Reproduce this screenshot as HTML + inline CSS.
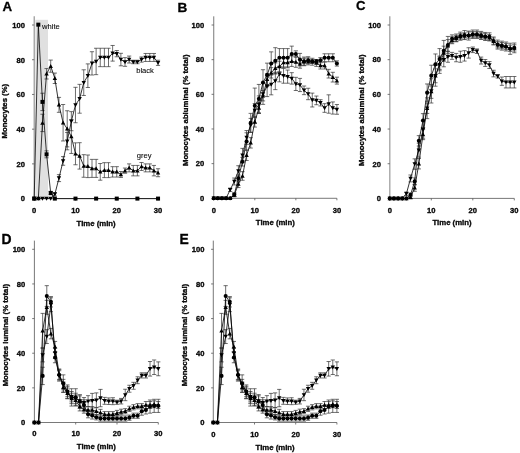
<!DOCTYPE html>
<html><head><meta charset="utf-8"><title>Figure</title>
<style>
html,body{margin:0;padding:0;background:#fff;}
body{width:520px;height:453px;overflow:hidden;}
svg{display:block;will-change:transform;transform:translateZ(0);}
text{font-family:"Liberation Sans",sans-serif;fill:#0a0a0a;stroke:#050505;stroke-width:0.3px;}
.tk{font-size:7.6px;font-weight:bold;}
.ti,.ty{font-size:7.75px;font-weight:bold;}
.pl{font-size:13.3px;font-weight:bold;fill:#000;}
.lb{font-size:7.6px;stroke-width:0.08px;}
</style></head><body>
<svg width="520" height="453" viewBox="0 0 520 453">
<defs><filter id="soft" x="0" y="0" width="520" height="453" filterUnits="userSpaceOnUse"><feGaussianBlur stdDeviation="0.38"/></filter></defs>
<rect width="520" height="453" fill="#fff"/>
<g filter="url(#soft)">
<g>
<rect x="35.30" y="19.79" width="12.70" height="178.81" fill="#e0e0e0"/>
<path d="M34.20 198.60H158.04" fill="none" stroke="#555" stroke-width="0.8"/>
<path d="M34.20 198.60v2.0M75.48 198.60v2.0M116.76 198.60v2.0M158.04 198.60v2.0" stroke="#555" stroke-width="0.8" fill="none"/>
<path d="M34.20 16.32V199.00" stroke="#8c8c8c" stroke-width="1.1" fill="none"/>
<path d="M32.00 198.60H34.20M32.00 163.88H34.20M32.00 129.16H34.20M32.00 94.44H34.20M32.00 59.72H34.20M32.00 25.00H34.20" stroke="#555" stroke-width="0.8" fill="none"/>
<text class="tk" x="25.00" y="201.40" text-anchor="end">0</text>
<text class="tk" x="25.00" y="166.68" text-anchor="end">20</text>
<text class="tk" x="25.00" y="131.96" text-anchor="end">40</text>
<text class="tk" x="25.00" y="97.24" text-anchor="end">60</text>
<text class="tk" x="25.00" y="62.52" text-anchor="end">80</text>
<text class="tk" x="25.00" y="27.80" text-anchor="end">100</text>
<text class="tk" x="34.20" y="213.00" text-anchor="middle">0</text>
<text class="tk" x="75.48" y="213.00" text-anchor="middle">10</text>
<text class="tk" x="116.76" y="213.00" text-anchor="middle">20</text>
<text class="tk" x="158.04" y="213.00" text-anchor="middle">30</text>
<text class="ti" x="96.12" y="225.50" text-anchor="middle">Time (min)</text>
<text class="ty" transform="translate(7.20 111.20) rotate(-90)" text-anchor="middle">Monocytes (%)</text>
<text class="pl" style="font-size:13.3px" x="2.60" y="10.65">A</text>
<path d="M42.46 93.22V110.58M40.36 93.22h4.2M40.36 110.58h4.2M46.58 150.86V157.80M44.48 150.86h4.2M44.48 157.80h4.2M50.71 191.31V194.78M48.61 191.31h4.2M48.61 194.78h4.2" stroke="#303030" stroke-width="0.7" fill="none"/>
<path d="M42.46 114.23V131.59M40.36 114.23h4.2M40.36 131.59h4.2M46.58 68.57V78.99M44.48 68.57h4.2M44.48 78.99h4.2M50.71 60.07V72.22M48.61 60.07h4.2M48.61 72.22h4.2M54.84 73.09V83.50M52.74 73.09h4.2M52.74 83.50h4.2M58.97 97.39V112.32M56.87 97.39h4.2M56.87 112.32h4.2M63.10 104.51V140.96M61.00 104.51h4.2M61.00 140.96h4.2M67.22 110.76V146.87M65.12 110.76h4.2M65.12 146.87h4.2M71.35 119.79V153.46M69.25 119.79h4.2M69.25 153.46h4.2M75.48 142.87V164.75M73.38 142.87h4.2M73.38 164.75h4.2M79.61 142.70V169.09M77.51 142.70h4.2M77.51 169.09h4.2M83.74 154.68V177.25M81.64 154.68h4.2M81.64 177.25h4.2M87.86 155.03V177.59M85.76 155.03h4.2M85.76 177.59h4.2M91.99 159.37V177.42M89.89 159.37h4.2M89.89 177.42h4.2M96.12 159.37V177.42M94.02 159.37h4.2M94.02 177.42h4.2M100.25 163.53V180.20M98.15 163.53h4.2M98.15 180.20h4.2M104.38 162.66V177.59M102.28 162.66h4.2M102.28 177.59h4.2M108.50 162.66V177.59M106.40 162.66h4.2M106.40 177.59h4.2M112.63 166.66V177.07M110.53 166.66h4.2M110.53 177.07h4.2M116.76 166.66V177.07M114.66 166.66h4.2M114.66 177.07h4.2M120.89 171.52V177.42M118.79 171.52h4.2M118.79 177.42h4.2M125.02 168.05V173.25M122.92 168.05h4.2M122.92 173.25h4.2M129.14 163.88V171.87M127.04 163.88h4.2M127.04 171.87h4.2M133.27 165.44V175.86M131.17 165.44h4.2M131.17 175.86h4.2M137.40 165.44V175.86M135.30 165.44h4.2M135.30 175.86h4.2M141.53 162.49V170.48M139.43 162.49h4.2M139.43 170.48h4.2M145.66 163.88V171.87M143.56 163.88h4.2M143.56 171.87h4.2M149.78 163.88V171.87M147.68 163.88h4.2M147.68 171.87h4.2M153.91 165.44V175.86M151.81 165.44h4.2M151.81 175.86h4.2M158.04 168.74V176.73M155.94 168.74h4.2M155.94 176.73h4.2" stroke="#303030" stroke-width="0.7" fill="none"/>
<path d="M54.84 192.52V196.00M52.74 192.52h4.2M52.74 196.00h4.2M58.97 174.64V181.59M56.87 174.64h4.2M56.87 181.59h4.2M63.10 156.59V165.27M61.00 156.59h4.2M61.00 165.27h4.2M67.22 132.46V149.82M65.12 132.46h4.2M65.12 149.82h4.2M71.35 111.63V130.72M69.25 111.63h4.2M69.25 130.72h4.2M75.48 87.32V122.74M73.38 87.32h4.2M73.38 122.74h4.2M79.61 84.37V113.19M77.51 84.37h4.2M77.51 113.19h4.2M83.74 69.79V95.48M81.64 69.79h4.2M81.64 95.48h4.2M87.86 63.89V87.50M85.76 63.89h4.2M85.76 87.50h4.2M91.99 51.73V75.00M89.89 51.73h4.2M89.89 75.00h4.2M96.12 48.26V74.65M94.02 48.26h4.2M94.02 74.65h4.2M100.25 48.26V66.66M98.15 48.26h4.2M98.15 66.66h4.2M104.38 48.26V66.66M102.28 48.26h4.2M102.28 66.66h4.2M108.50 48.26V66.66M106.40 48.26h4.2M106.40 66.66h4.2M112.63 45.48V61.11M110.53 45.48h4.2M110.53 61.11h4.2M116.76 50.52V56.77M114.66 50.52h4.2M114.66 56.77h4.2M120.89 53.30V65.80M118.79 53.30h4.2M118.79 65.80h4.2M125.02 57.64V66.32M122.92 57.64h4.2M122.92 66.32h4.2M129.14 56.07V63.02M127.04 56.07h4.2M127.04 63.02h4.2M133.27 60.24V63.71M131.17 60.24h4.2M131.17 63.71h4.2M137.40 60.24V63.71M135.30 60.24h4.2M135.30 63.71h4.2M141.53 56.94V62.15M139.43 56.94h4.2M139.43 62.15h4.2M145.66 53.47V61.46M143.56 53.47h4.2M143.56 61.46h4.2M149.78 53.47V61.46M147.68 53.47h4.2M147.68 61.46h4.2M153.91 53.47V61.46M151.81 53.47h4.2M151.81 61.46h4.2M158.04 60.24V65.45M155.94 60.24h4.2M155.94 65.45h4.2" stroke="#303030" stroke-width="0.7" fill="none"/>
<polyline points="34.20,198.60 38.33,24.65 42.46,101.90 46.58,154.33 50.71,193.04 54.84,198.60 75.48,198.60 96.12,198.60 116.76,198.60 137.40,198.60 158.04,198.60" fill="none" stroke="#050505" stroke-width="0.8" stroke-linejoin="round"/>
<polyline points="34.20,198.60 38.33,198.60 42.46,122.91 46.58,73.78 50.71,66.14 54.84,78.30 58.97,104.86 63.10,122.74 67.22,128.81 71.35,136.62 75.48,153.81 79.61,155.89 83.74,165.96 87.86,166.31 91.99,168.39 96.12,168.39 100.25,171.87 104.38,170.13 108.50,170.13 112.63,171.87 116.76,171.87 120.89,174.47 125.02,170.65 129.14,167.87 133.27,170.65 137.40,170.65 141.53,166.48 145.66,167.87 149.78,167.87 153.91,170.65 158.04,172.73" fill="none" stroke="#050505" stroke-width="0.8" stroke-linejoin="round"/>
<polyline points="34.20,198.60 38.33,198.60 42.46,198.60 46.58,198.60 50.71,198.60 54.84,194.26 58.97,178.12 63.10,160.93 67.22,141.14 71.35,121.17 75.48,105.03 79.61,98.78 83.74,82.64 87.86,75.69 91.99,63.37 96.12,61.46 100.25,57.46 104.38,57.46 108.50,57.46 112.63,53.30 116.76,53.64 120.89,59.55 125.02,61.98 129.14,59.55 133.27,61.98 137.40,61.98 141.53,59.55 145.66,57.46 149.78,57.46 153.91,57.46 158.04,62.84" fill="none" stroke="#050505" stroke-width="0.8" stroke-linejoin="round"/>
<rect x="32.20" y="196.60" width="4.0" height="4.0" fill="#000"/>
<rect x="36.33" y="22.65" width="4.0" height="4.0" fill="#000"/>
<rect x="40.46" y="99.90" width="4.0" height="4.0" fill="#000"/>
<rect x="44.58" y="152.33" width="4.0" height="4.0" fill="#000"/>
<rect x="48.71" y="191.04" width="4.0" height="4.0" fill="#000"/>
<rect x="52.84" y="196.60" width="4.0" height="4.0" fill="#000"/>
<rect x="73.48" y="196.60" width="4.0" height="4.0" fill="#000"/>
<rect x="94.12" y="196.60" width="4.0" height="4.0" fill="#000"/>
<rect x="114.76" y="196.60" width="4.0" height="4.0" fill="#000"/>
<rect x="135.40" y="196.60" width="4.0" height="4.0" fill="#000"/>
<rect x="156.04" y="196.60" width="4.0" height="4.0" fill="#000"/>
<path d="M32.00 200.35h4.4l-2.2 -4.0zM36.13 200.35h4.4l-2.2 -4.0zM40.26 124.66h4.4l-2.2 -4.0zM44.38 75.53h4.4l-2.2 -4.0zM48.51 67.89h4.4l-2.2 -4.0zM52.64 80.05h4.4l-2.2 -4.0zM56.77 106.61h4.4l-2.2 -4.0zM60.90 124.49h4.4l-2.2 -4.0zM65.02 130.56h4.4l-2.2 -4.0zM69.15 138.37h4.4l-2.2 -4.0zM73.28 155.56h4.4l-2.2 -4.0zM77.41 157.64h4.4l-2.2 -4.0zM81.54 167.71h4.4l-2.2 -4.0zM85.66 168.06h4.4l-2.2 -4.0zM89.79 170.14h4.4l-2.2 -4.0zM93.92 170.14h4.4l-2.2 -4.0zM98.05 173.62h4.4l-2.2 -4.0zM102.18 171.88h4.4l-2.2 -4.0zM106.30 171.88h4.4l-2.2 -4.0zM110.43 173.62h4.4l-2.2 -4.0zM114.56 173.62h4.4l-2.2 -4.0zM118.69 176.22h4.4l-2.2 -4.0zM122.82 172.40h4.4l-2.2 -4.0zM126.94 169.62h4.4l-2.2 -4.0zM131.07 172.40h4.4l-2.2 -4.0zM135.20 172.40h4.4l-2.2 -4.0zM139.33 168.23h4.4l-2.2 -4.0zM143.46 169.62h4.4l-2.2 -4.0zM147.58 169.62h4.4l-2.2 -4.0zM151.71 172.40h4.4l-2.2 -4.0zM155.84 174.48h4.4l-2.2 -4.0z" fill="#000"/>
<path d="M32.00 196.85h4.4l-2.2 4.0zM36.13 196.85h4.4l-2.2 4.0zM40.26 196.85h4.4l-2.2 4.0zM44.38 196.85h4.4l-2.2 4.0zM48.51 196.85h4.4l-2.2 4.0zM52.64 192.51h4.4l-2.2 4.0zM56.77 176.37h4.4l-2.2 4.0zM60.90 159.18h4.4l-2.2 4.0zM65.02 139.39h4.4l-2.2 4.0zM69.15 119.42h4.4l-2.2 4.0zM73.28 103.28h4.4l-2.2 4.0zM77.41 97.03h4.4l-2.2 4.0zM81.54 80.89h4.4l-2.2 4.0zM85.66 73.94h4.4l-2.2 4.0zM89.79 61.62h4.4l-2.2 4.0zM93.92 59.71h4.4l-2.2 4.0zM98.05 55.71h4.4l-2.2 4.0zM102.18 55.71h4.4l-2.2 4.0zM106.30 55.71h4.4l-2.2 4.0zM110.43 51.55h4.4l-2.2 4.0zM114.56 51.89h4.4l-2.2 4.0zM118.69 57.80h4.4l-2.2 4.0zM122.82 60.23h4.4l-2.2 4.0zM126.94 57.80h4.4l-2.2 4.0zM131.07 60.23h4.4l-2.2 4.0zM135.20 60.23h4.4l-2.2 4.0zM139.33 57.80h4.4l-2.2 4.0zM143.46 55.71h4.4l-2.2 4.0zM147.58 55.71h4.4l-2.2 4.0zM151.71 55.71h4.4l-2.2 4.0zM155.84 61.09h4.4l-2.2 4.0z" fill="#000"/>
<text class="lb" x="42" y="28.6">white</text>
<text class="lb" x="136.2" y="73.1">black</text>
<text class="lb" x="136.8" y="157.6">grey</text>
</g>
<g>
<path d="M213.75 198.30H336.90" fill="none" stroke="#555" stroke-width="0.8"/>
<path d="M213.75 198.30v2.0M254.80 198.30v2.0M295.85 198.30v2.0M336.90 198.30v2.0" stroke="#555" stroke-width="0.8" fill="none"/>
<path d="M213.75 16.34V198.70" stroke="#555" stroke-width="0.8" fill="none"/>
<path d="M211.55 198.30H213.75M211.55 163.64H213.75M211.55 128.98H213.75M211.55 94.32H213.75M211.55 59.66H213.75M211.55 25.00H213.75" stroke="#555" stroke-width="0.8" fill="none"/>
<text class="tk" x="204.25" y="201.10" text-anchor="end">0</text>
<text class="tk" x="204.25" y="166.44" text-anchor="end">20</text>
<text class="tk" x="204.25" y="131.78" text-anchor="end">40</text>
<text class="tk" x="204.25" y="97.12" text-anchor="end">60</text>
<text class="tk" x="204.25" y="62.46" text-anchor="end">80</text>
<text class="tk" x="204.25" y="27.80" text-anchor="end">100</text>
<text class="tk" x="213.75" y="213.10" text-anchor="middle">0</text>
<text class="tk" x="254.80" y="213.10" text-anchor="middle">10</text>
<text class="tk" x="295.85" y="213.10" text-anchor="middle">20</text>
<text class="tk" x="336.90" y="213.10" text-anchor="middle">30</text>
<text class="ti" x="275.32" y="225.30" text-anchor="middle">Time (min)</text>
<text class="ty" transform="translate(187.85 110.30) rotate(-90)" text-anchor="middle">Monocytes abluminal (% total)</text>
<text class="pl" style="font-size:13.6px" x="177.50" y="11.55">B</text>
<path d="M230.17 188.08V191.54M228.07 188.08h4.2M228.07 191.54h4.2M234.28 178.02V184.96M232.18 178.02h4.2M232.18 184.96h4.2M238.38 165.72V176.12M236.28 165.72h4.2M236.28 176.12h4.2M242.49 148.39V162.25M240.39 148.39h4.2M240.39 162.25h4.2M246.59 130.54V144.40M244.49 130.54h4.2M244.49 144.40h4.2M250.69 118.41V132.27M248.59 118.41h4.2M248.59 132.27h4.2M254.80 103.50V117.37M252.70 103.50h4.2M252.70 117.37h4.2M258.90 95.88V113.21M256.80 95.88h4.2M256.80 113.21h4.2M263.01 83.58V104.37M260.91 83.58h4.2M260.91 104.37h4.2M267.12 75.78V96.57M265.01 75.78h4.2M265.01 96.57h4.2M271.22 74.04V94.84M269.12 74.04h4.2M269.12 94.84h4.2M275.32 72.31V89.64M273.22 72.31h4.2M273.22 89.64h4.2M279.43 66.25V81.84M277.33 66.25h4.2M277.33 81.84h4.2M283.54 68.33V83.23M281.44 68.33h4.2M281.44 83.23h4.2M287.64 70.06V83.23M285.54 70.06h4.2M285.54 83.23h4.2M291.75 72.66V84.10M289.64 72.66h4.2M289.64 84.10h4.2M295.85 77.34V90.51M293.75 77.34h4.2M293.75 90.51h4.2M299.96 78.38V91.55M297.86 78.38h4.2M297.86 91.55h4.2M304.06 86.00V94.67M301.96 86.00h4.2M301.96 94.67h4.2M308.17 88.25V99.69M306.06 88.25h4.2M306.06 99.69h4.2M312.27 93.11V106.97M310.17 93.11h4.2M310.17 106.97h4.2M316.38 96.05V104.72M314.27 96.05h4.2M314.27 104.72h4.2M320.48 99.69V105.93M318.38 99.69h4.2M318.38 105.93h4.2M324.59 103.68V112.34M322.49 103.68h4.2M322.49 112.34h4.2M328.69 94.84V113.21M326.59 94.84h4.2M326.59 113.21h4.2M332.80 101.95V114.08M330.69 101.95h4.2M330.69 114.08h4.2M336.90 104.54V114.25M334.80 104.54h4.2M334.80 114.25h4.2" stroke="#303030" stroke-width="0.7" fill="none"/>
<path d="M234.28 193.27V196.74M232.18 193.27h4.2M232.18 196.74h4.2M238.38 180.62V187.56M236.28 180.62h4.2M236.28 187.56h4.2M242.49 171.61V180.28M240.39 171.61h4.2M240.39 180.28h4.2M246.59 150.12V160.52M244.49 150.12h4.2M244.49 160.52h4.2M250.69 137.65V148.04M248.59 137.65h4.2M248.59 148.04h4.2M254.80 116.68V127.07M252.70 116.68h4.2M252.70 127.07h4.2M258.90 102.81V113.21M256.80 102.81h4.2M256.80 113.21h4.2M263.01 90.51V100.91M260.91 90.51h4.2M260.91 100.91h4.2M267.12 74.04V84.44M265.01 74.04h4.2M265.01 84.44h4.2M271.22 67.63V78.03M269.12 67.63h4.2M269.12 78.03h4.2M275.32 62.95V73.35M273.22 62.95h4.2M273.22 73.35h4.2M279.43 61.22V71.62M277.33 61.22h4.2M277.33 71.62h4.2M283.54 57.41V67.81M281.44 57.41h4.2M281.44 67.81h4.2M287.64 57.41V67.81M285.54 57.41h4.2M285.54 67.81h4.2M291.75 56.02V66.42M289.64 56.02h4.2M289.64 66.42h4.2M295.85 56.89V67.29M293.75 56.89h4.2M293.75 67.29h4.2M299.96 59.49V68.15M297.86 59.49h4.2M297.86 68.15h4.2M304.06 58.27V65.21M301.96 58.27h4.2M301.96 65.21h4.2M308.17 57.93V64.86M306.06 57.93h4.2M306.06 64.86h4.2M312.27 58.27V65.21M310.17 58.27h4.2M310.17 65.21h4.2M316.38 59.49V66.42M314.27 59.49h4.2M314.27 66.42h4.2M320.48 62.09V69.02M318.38 62.09h4.2M318.38 69.02h4.2M324.59 62.09V69.02M322.49 62.09h4.2M322.49 69.02h4.2M328.69 69.36V78.03M326.59 69.36h4.2M326.59 78.03h4.2M332.80 72.31V82.02M330.69 72.31h4.2M330.69 82.02h4.2M336.90 77.16V84.10M334.80 77.16h4.2M334.80 84.10h4.2" stroke="#303030" stroke-width="0.7" fill="none"/>
<path d="M234.28 192.75V196.22M232.18 192.75h4.2M232.18 196.22h4.2M238.38 174.90V181.84M236.28 174.90h4.2M236.28 181.84h4.2M242.49 157.40V166.07M240.39 157.40h4.2M240.39 166.07h4.2M246.59 132.79V150.12M244.49 132.79h4.2M244.49 150.12h4.2M250.69 113.38V132.45M248.59 113.38h4.2M248.59 132.45h4.2M254.80 88.08V123.43M252.70 88.08h4.2M252.70 123.43h4.2M258.90 84.44V113.21M256.80 84.44h4.2M256.80 113.21h4.2M263.01 69.71V95.36M260.91 69.71h4.2M260.91 95.36h4.2M267.12 63.13V86.69M265.01 63.13h4.2M265.01 86.69h4.2M271.22 51.86V75.08M269.12 51.86h4.2M269.12 75.08h4.2M275.32 47.70V74.04M273.22 47.70h4.2M273.22 74.04h4.2M279.43 48.57V66.94M277.33 48.57h4.2M277.33 66.94h4.2M283.54 48.57V66.94M281.44 48.57h4.2M281.44 66.94h4.2M287.64 48.57V66.94M285.54 48.57h4.2M285.54 66.94h4.2M291.75 46.14V61.74M289.64 46.14h4.2M289.64 61.74h4.2M295.85 50.82V57.06M293.75 50.82h4.2M293.75 57.06h4.2M299.96 53.42V65.90M297.86 53.42h4.2M297.86 65.90h4.2M304.06 57.06V65.73M301.96 57.06h4.2M301.96 65.73h4.2M308.17 56.71V63.65M306.06 56.71h4.2M306.06 63.65h4.2M312.27 59.66V63.13M310.17 59.66h4.2M310.17 63.13h4.2M316.38 59.66V63.13M314.27 59.66h4.2M314.27 63.13h4.2M320.48 57.58V62.78M318.38 57.58h4.2M318.38 62.78h4.2M324.59 53.77V61.74M322.49 53.77h4.2M322.49 61.74h4.2M328.69 53.77V61.74M326.59 53.77h4.2M326.59 61.74h4.2M332.80 53.77V61.74M330.69 53.77h4.2M330.69 61.74h4.2M336.90 60.87V66.07M334.80 60.87h4.2M334.80 66.07h4.2" stroke="#303030" stroke-width="0.7" fill="none"/>
<polyline points="213.75,198.30 217.85,198.30 221.96,198.30 226.06,198.30 230.17,189.81 234.28,181.49 238.38,170.92 242.49,155.32 246.59,137.47 250.69,125.34 254.80,110.44 258.90,104.54 263.01,93.97 267.12,86.17 271.22,84.44 275.32,80.98 279.43,74.04 283.54,75.78 287.64,76.64 291.75,78.38 295.85,83.92 299.96,84.96 304.06,90.33 308.17,93.97 312.27,100.04 316.38,100.39 320.48,102.81 324.59,108.01 328.69,104.02 332.80,108.01 336.90,109.40" fill="none" stroke="#050505" stroke-width="0.8" stroke-linejoin="round"/>
<polyline points="213.75,198.30 217.85,198.30 221.96,198.30 226.06,198.30 230.17,198.30 234.28,195.01 238.38,184.09 242.49,175.94 246.59,155.32 250.69,142.84 254.80,121.87 258.90,108.01 263.01,95.71 267.12,79.24 271.22,72.83 275.32,68.15 279.43,66.42 283.54,62.61 287.64,62.61 291.75,61.22 295.85,62.09 299.96,63.82 304.06,61.74 308.17,61.39 312.27,61.74 316.38,62.95 320.48,65.55 324.59,65.55 328.69,73.70 332.80,77.16 336.90,80.63" fill="none" stroke="#050505" stroke-width="0.8" stroke-linejoin="round"/>
<polyline points="213.75,198.30 217.85,198.30 221.96,198.30 226.06,198.30 230.17,198.30 234.28,194.49 238.38,178.37 242.49,161.73 246.59,141.46 250.69,122.91 254.80,105.76 258.90,98.83 263.01,82.54 267.12,74.91 271.22,63.47 275.32,60.87 279.43,57.75 283.54,57.75 287.64,57.75 291.75,53.94 295.85,53.94 299.96,59.66 304.06,61.39 308.17,60.18 312.27,61.39 316.38,61.39 320.48,60.18 324.59,57.75 328.69,57.75 332.80,57.75 336.90,63.47" fill="none" stroke="#050505" stroke-width="0.8" stroke-linejoin="round"/>
<path d="M211.55 196.55h4.4l-2.2 4.0zM215.66 196.55h4.4l-2.2 4.0zM219.76 196.55h4.4l-2.2 4.0zM223.87 196.55h4.4l-2.2 4.0zM227.97 188.06h4.4l-2.2 4.0zM232.08 179.74h4.4l-2.2 4.0zM236.18 169.17h4.4l-2.2 4.0zM240.29 153.57h4.4l-2.2 4.0zM244.39 135.72h4.4l-2.2 4.0zM248.50 123.59h4.4l-2.2 4.0zM252.60 108.69h4.4l-2.2 4.0zM256.70 102.79h4.4l-2.2 4.0zM260.81 92.22h4.4l-2.2 4.0zM264.92 84.42h4.4l-2.2 4.0zM269.02 82.69h4.4l-2.2 4.0zM273.12 79.23h4.4l-2.2 4.0zM277.23 72.29h4.4l-2.2 4.0zM281.34 74.03h4.4l-2.2 4.0zM285.44 74.89h4.4l-2.2 4.0zM289.55 76.63h4.4l-2.2 4.0zM293.65 82.17h4.4l-2.2 4.0zM297.76 83.21h4.4l-2.2 4.0zM301.86 88.58h4.4l-2.2 4.0zM305.97 92.22h4.4l-2.2 4.0zM310.07 98.29h4.4l-2.2 4.0zM314.18 98.64h4.4l-2.2 4.0zM318.28 101.06h4.4l-2.2 4.0zM322.39 106.26h4.4l-2.2 4.0zM326.49 102.27h4.4l-2.2 4.0zM330.60 106.26h4.4l-2.2 4.0zM334.70 107.65h4.4l-2.2 4.0z" fill="#000"/>
<path d="M211.55 200.05h4.4l-2.2 -4.0zM215.66 200.05h4.4l-2.2 -4.0zM219.76 200.05h4.4l-2.2 -4.0zM223.87 200.05h4.4l-2.2 -4.0zM227.97 200.05h4.4l-2.2 -4.0zM232.08 196.76h4.4l-2.2 -4.0zM236.18 185.84h4.4l-2.2 -4.0zM240.29 177.69h4.4l-2.2 -4.0zM244.39 157.07h4.4l-2.2 -4.0zM248.50 144.59h4.4l-2.2 -4.0zM252.60 123.62h4.4l-2.2 -4.0zM256.70 109.76h4.4l-2.2 -4.0zM260.81 97.46h4.4l-2.2 -4.0zM264.92 80.99h4.4l-2.2 -4.0zM269.02 74.58h4.4l-2.2 -4.0zM273.12 69.90h4.4l-2.2 -4.0zM277.23 68.17h4.4l-2.2 -4.0zM281.34 64.36h4.4l-2.2 -4.0zM285.44 64.36h4.4l-2.2 -4.0zM289.55 62.97h4.4l-2.2 -4.0zM293.65 63.84h4.4l-2.2 -4.0zM297.76 65.57h4.4l-2.2 -4.0zM301.86 63.49h4.4l-2.2 -4.0zM305.97 63.14h4.4l-2.2 -4.0zM310.07 63.49h4.4l-2.2 -4.0zM314.18 64.70h4.4l-2.2 -4.0zM318.28 67.30h4.4l-2.2 -4.0zM322.39 67.30h4.4l-2.2 -4.0zM326.49 75.45h4.4l-2.2 -4.0zM330.60 78.91h4.4l-2.2 -4.0zM334.70 82.38h4.4l-2.2 -4.0z" fill="#000"/>
<circle cx="213.75" cy="198.30" r="2.05" fill="#000"/>
<circle cx="217.85" cy="198.30" r="2.05" fill="#000"/>
<circle cx="221.96" cy="198.30" r="2.05" fill="#000"/>
<circle cx="226.06" cy="198.30" r="2.05" fill="#000"/>
<circle cx="230.17" cy="198.30" r="2.05" fill="#000"/>
<circle cx="234.28" cy="194.49" r="2.05" fill="#000"/>
<circle cx="238.38" cy="178.37" r="2.05" fill="#000"/>
<circle cx="242.49" cy="161.73" r="2.05" fill="#000"/>
<circle cx="246.59" cy="141.46" r="2.05" fill="#000"/>
<circle cx="250.69" cy="122.91" r="2.05" fill="#000"/>
<circle cx="254.80" cy="105.76" r="2.05" fill="#000"/>
<circle cx="258.90" cy="98.83" r="2.05" fill="#000"/>
<circle cx="263.01" cy="82.54" r="2.05" fill="#000"/>
<circle cx="267.12" cy="74.91" r="2.05" fill="#000"/>
<circle cx="271.22" cy="63.47" r="2.05" fill="#000"/>
<circle cx="275.32" cy="60.87" r="2.05" fill="#000"/>
<circle cx="279.43" cy="57.75" r="2.05" fill="#000"/>
<circle cx="283.54" cy="57.75" r="2.05" fill="#000"/>
<circle cx="287.64" cy="57.75" r="2.05" fill="#000"/>
<circle cx="291.75" cy="53.94" r="2.05" fill="#000"/>
<circle cx="295.85" cy="53.94" r="2.05" fill="#000"/>
<circle cx="299.96" cy="59.66" r="2.05" fill="#000"/>
<circle cx="304.06" cy="61.39" r="2.05" fill="#000"/>
<circle cx="308.17" cy="60.18" r="2.05" fill="#000"/>
<circle cx="312.27" cy="61.39" r="2.05" fill="#000"/>
<circle cx="316.38" cy="61.39" r="2.05" fill="#000"/>
<circle cx="320.48" cy="60.18" r="2.05" fill="#000"/>
<circle cx="324.59" cy="57.75" r="2.05" fill="#000"/>
<circle cx="328.69" cy="57.75" r="2.05" fill="#000"/>
<circle cx="332.80" cy="57.75" r="2.05" fill="#000"/>
<circle cx="336.90" cy="63.47" r="2.05" fill="#000"/>
</g>
<g>
<path d="M389.80 198.40H514.30" fill="none" stroke="#555" stroke-width="0.8"/>
<path d="M389.80 198.40v2.0M431.30 198.40v2.0M472.80 198.40v2.0M514.30 198.40v2.0" stroke="#555" stroke-width="0.8" fill="none"/>
<path d="M389.80 16.33V198.80" stroke="#a0a0a0" stroke-width="1.3" fill="none"/>
<path d="M387.60 198.40H389.80M387.60 163.72H389.80M387.60 129.04H389.80M387.60 94.36H389.80M387.60 59.68H389.80M387.60 25.00H389.80" stroke="#555" stroke-width="0.8" fill="none"/>
<text class="tk" x="380.90" y="201.20" text-anchor="end">0</text>
<text class="tk" x="380.90" y="166.52" text-anchor="end">20</text>
<text class="tk" x="380.90" y="131.84" text-anchor="end">40</text>
<text class="tk" x="380.90" y="97.16" text-anchor="end">60</text>
<text class="tk" x="380.90" y="62.48" text-anchor="end">80</text>
<text class="tk" x="380.90" y="27.80" text-anchor="end">100</text>
<text class="tk" x="389.80" y="213.20" text-anchor="middle">0</text>
<text class="tk" x="431.30" y="213.20" text-anchor="middle">10</text>
<text class="tk" x="472.80" y="213.20" text-anchor="middle">20</text>
<text class="tk" x="514.30" y="213.20" text-anchor="middle">30</text>
<text class="ti" x="452.05" y="225.40" text-anchor="middle">Time (min)</text>
<text class="ty" transform="translate(363.60 110.30) rotate(-90)" text-anchor="middle">Monocytes abluminal (% total)</text>
<text class="pl" style="font-size:13.2px" x="356.00" y="10.35">C</text>
<path d="M406.40 191.98V195.45M404.30 191.98h4.2M404.30 195.45h4.2M410.55 174.99V181.93M408.45 174.99h4.2M408.45 181.93h4.2M414.70 158.86V169.27M412.60 158.86h4.2M412.60 169.27h4.2M418.85 143.26V157.13M416.75 143.26h4.2M416.75 157.13h4.2M423.00 120.89V138.23M420.90 120.89h4.2M420.90 138.23h4.2M427.15 97.83V118.64M425.05 97.83h4.2M425.05 118.64h4.2M431.30 78.75V103.03M429.20 78.75h4.2M429.20 103.03h4.2M435.45 65.40V86.21M433.35 65.40h4.2M433.35 86.21h4.2M439.60 56.04V73.38M437.50 56.04h4.2M437.50 73.38h4.2M443.75 52.92V66.79M441.65 52.92h4.2M441.65 66.79h4.2M447.90 51.18V62.28M445.80 51.18h4.2M445.80 62.28h4.2M452.05 52.40V59.33M449.95 52.40h4.2M449.95 59.33h4.2M456.20 53.44V61.76M454.10 53.44h4.2M454.10 61.76h4.2M460.35 51.18V62.28M458.25 51.18h4.2M458.25 62.28h4.2M464.50 50.66V61.07M462.40 50.66h4.2M462.40 61.07h4.2M468.65 47.72V58.12M466.55 47.72h4.2M466.55 58.12h4.2M472.80 47.02V52.57M470.70 47.02h4.2M470.70 52.57h4.2M476.95 48.93V53.44M474.85 48.93h4.2M474.85 53.44h4.2M481.10 57.08V64.02M479.00 57.08h4.2M479.00 64.02h4.2M485.25 59.51V66.44M483.15 59.51h4.2M483.15 66.44h4.2M489.40 61.59V68.52M487.30 61.59h4.2M487.30 68.52h4.2M493.55 70.26V76.85M491.45 70.26h4.2M491.45 76.85h4.2M497.70 74.59V78.06M495.60 74.59h4.2M495.60 78.06h4.2M501.85 77.02V85.34M499.75 77.02h4.2M499.75 85.34h4.2M506.00 76.50V87.94M503.90 76.50h4.2M503.90 87.94h4.2M510.15 76.50V87.94M508.05 76.50h4.2M508.05 87.94h4.2M514.30 76.50V87.94M512.20 76.50h4.2M512.20 87.94h4.2" stroke="#303030" stroke-width="0.7" fill="none"/>
<path d="M410.55 195.45V198.92M408.45 195.45h4.2M408.45 198.92h4.2M414.70 184.35V191.29M412.60 184.35h4.2M412.60 191.29h4.2M418.85 158.52V168.92M416.75 158.52h4.2M416.75 168.92h4.2M423.00 129.21V139.62M420.90 129.21h4.2M420.90 139.62h4.2M427.15 103.03V113.43M425.05 103.03h4.2M425.05 113.43h4.2M431.30 84.48V98.35M429.20 84.48h4.2M429.20 98.35h4.2M435.45 68.87V82.74M433.35 68.87h4.2M433.35 82.74h4.2M439.60 56.91V70.78M437.50 56.91h4.2M437.50 70.78h4.2M443.75 46.15V60.03M441.65 46.15h4.2M441.65 60.03h4.2M447.90 39.57V51.70M445.80 39.57h4.2M445.80 51.70h4.2M452.05 36.79V43.73M449.95 36.79h4.2M449.95 43.73h4.2M456.20 35.40V41.65M454.10 35.40h4.2M454.10 41.65h4.2M460.35 33.67V39.91M458.25 33.67h4.2M458.25 39.91h4.2M464.50 32.80V39.05M462.40 32.80h4.2M462.40 39.05h4.2M468.65 31.94V38.18M466.55 31.94h4.2M466.55 38.18h4.2M472.80 31.59V37.83M470.70 31.59h4.2M470.70 37.83h4.2M476.95 31.59V37.83M474.85 31.59h4.2M474.85 37.83h4.2M481.10 32.80V39.05M479.00 32.80h4.2M479.00 39.05h4.2M485.25 33.67V39.91M483.15 33.67h4.2M483.15 39.91h4.2M489.40 34.54V40.78M487.30 34.54h4.2M487.30 40.78h4.2M493.55 38.00V44.25M491.45 38.00h4.2M491.45 44.25h4.2M497.70 41.65V47.89M495.60 41.65h4.2M495.60 47.89h4.2M501.85 42.51V48.76M499.75 42.51h4.2M499.75 48.76h4.2M506.00 43.38V49.62M503.90 43.38h4.2M503.90 49.62h4.2M510.15 45.11V51.36M508.05 45.11h4.2M508.05 51.36h4.2M514.30 44.77V51.01M512.20 44.77h4.2M512.20 51.01h4.2" stroke="#303030" stroke-width="0.7" fill="none"/>
<path d="M410.55 193.02V196.49M408.45 193.02h4.2M408.45 196.49h4.2M414.70 177.94V184.87M412.60 177.94h4.2M412.60 184.87h4.2M418.85 135.63V146.03M416.75 135.63h4.2M416.75 146.03h4.2M423.00 113.61V127.48M420.90 113.61h4.2M420.90 127.48h4.2M427.15 83.96V101.30M425.05 83.96h4.2M425.05 101.30h4.2M431.30 65.23V86.04M429.20 65.23h4.2M429.20 86.04h4.2M435.45 53.96V74.77M433.35 53.96h4.2M433.35 74.77h4.2M439.60 48.58V69.39M437.50 48.58h4.2M437.50 69.39h4.2M443.75 40.43V61.24M441.65 40.43h4.2M441.65 61.24h4.2M447.90 36.44V53.78M445.80 36.44h4.2M445.80 53.78h4.2M452.05 34.88V42.86M449.95 34.88h4.2M449.95 42.86h4.2M456.20 34.02V41.65M454.10 34.02h4.2M454.10 41.65h4.2M460.35 32.11V40.09M458.25 32.11h4.2M458.25 40.09h4.2M464.50 30.55V39.57M462.40 30.55h4.2M462.40 39.57h4.2M468.65 31.07V40.09M466.55 31.07h4.2M466.55 40.09h4.2M472.80 30.03V38.35M470.70 30.03h4.2M470.70 38.35h4.2M476.95 30.03V38.35M474.85 30.03h4.2M474.85 38.35h4.2M481.10 31.42V39.39M479.00 31.42h4.2M479.00 39.39h4.2M485.25 32.46V40.43M483.15 32.46h4.2M483.15 40.43h4.2M489.40 32.80V40.78M487.30 32.80h4.2M487.30 40.78h4.2M493.55 36.96V44.94M491.45 36.96h4.2M491.45 44.94h4.2M497.70 40.09V49.10M495.60 40.09h4.2M495.60 49.10h4.2M501.85 41.13V50.14M499.75 41.13h4.2M499.75 50.14h4.2M506.00 41.99V51.01M503.90 41.99h4.2M503.90 51.01h4.2M510.15 43.21V54.30M508.05 43.21h4.2M508.05 54.30h4.2M514.30 43.03V52.74M512.20 43.03h4.2M512.20 52.74h4.2" stroke="#303030" stroke-width="0.7" fill="none"/>
<polyline points="389.80,198.40 393.95,198.40 398.10,198.40 402.25,198.40 406.40,193.72 410.55,178.46 414.70,164.07 418.85,150.19 423.00,129.56 427.15,108.23 431.30,90.89 435.45,75.81 439.60,64.71 443.75,59.85 447.90,56.73 452.05,55.87 456.20,57.60 460.35,56.73 464.50,55.87 468.65,52.92 472.80,49.80 476.95,51.18 481.10,60.55 485.25,62.97 489.40,65.06 493.55,73.55 497.70,76.33 501.85,81.18 506.00,82.22 510.15,82.22 514.30,82.22" fill="none" stroke="#050505" stroke-width="0.8" stroke-linejoin="round"/>
<polyline points="389.80,198.40 393.95,198.40 398.10,198.40 402.25,198.40 406.40,198.40 410.55,197.19 414.70,187.82 418.85,163.72 423.00,134.42 427.15,108.23 431.30,91.41 435.45,75.81 439.60,63.84 443.75,53.09 447.90,45.63 452.05,40.26 456.20,38.53 460.35,36.79 464.50,35.92 468.65,35.06 472.80,34.71 476.95,34.71 481.10,35.92 485.25,36.79 489.40,37.66 493.55,41.13 497.70,44.77 501.85,45.63 506.00,46.50 510.15,48.24 514.30,47.89" fill="none" stroke="#050505" stroke-width="0.8" stroke-linejoin="round"/>
<polyline points="389.80,198.40 393.95,198.40 398.10,198.40 402.25,198.40 406.40,198.40 410.55,194.76 414.70,181.41 418.85,140.83 423.00,120.54 427.15,92.63 431.30,75.63 435.45,64.36 439.60,58.99 443.75,50.84 447.90,45.11 452.05,38.87 456.20,37.83 460.35,36.10 464.50,35.06 468.65,35.58 472.80,34.19 476.95,34.19 481.10,35.40 485.25,36.44 489.40,36.79 493.55,40.95 497.70,44.59 501.85,45.63 506.00,46.50 510.15,48.76 514.30,47.89" fill="none" stroke="#050505" stroke-width="0.8" stroke-linejoin="round"/>
<path d="M387.60 196.65h4.4l-2.2 4.0zM391.75 196.65h4.4l-2.2 4.0zM395.90 196.65h4.4l-2.2 4.0zM400.05 196.65h4.4l-2.2 4.0zM404.20 191.97h4.4l-2.2 4.0zM408.35 176.71h4.4l-2.2 4.0zM412.50 162.32h4.4l-2.2 4.0zM416.65 148.44h4.4l-2.2 4.0zM420.80 127.81h4.4l-2.2 4.0zM424.95 106.48h4.4l-2.2 4.0zM429.10 89.14h4.4l-2.2 4.0zM433.25 74.06h4.4l-2.2 4.0zM437.40 62.96h4.4l-2.2 4.0zM441.55 58.10h4.4l-2.2 4.0zM445.70 54.98h4.4l-2.2 4.0zM449.85 54.12h4.4l-2.2 4.0zM454.00 55.85h4.4l-2.2 4.0zM458.15 54.98h4.4l-2.2 4.0zM462.30 54.12h4.4l-2.2 4.0zM466.45 51.17h4.4l-2.2 4.0zM470.60 48.05h4.4l-2.2 4.0zM474.75 49.43h4.4l-2.2 4.0zM478.90 58.80h4.4l-2.2 4.0zM483.05 61.22h4.4l-2.2 4.0zM487.20 63.31h4.4l-2.2 4.0zM491.35 71.80h4.4l-2.2 4.0zM495.50 74.58h4.4l-2.2 4.0zM499.65 79.43h4.4l-2.2 4.0zM503.80 80.47h4.4l-2.2 4.0zM507.95 80.47h4.4l-2.2 4.0zM512.10 80.47h4.4l-2.2 4.0z" fill="#000"/>
<path d="M387.60 200.15h4.4l-2.2 -4.0zM391.75 200.15h4.4l-2.2 -4.0zM395.90 200.15h4.4l-2.2 -4.0zM400.05 200.15h4.4l-2.2 -4.0zM404.20 200.15h4.4l-2.2 -4.0zM408.35 198.94h4.4l-2.2 -4.0zM412.50 189.57h4.4l-2.2 -4.0zM416.65 165.47h4.4l-2.2 -4.0zM420.80 136.17h4.4l-2.2 -4.0zM424.95 109.98h4.4l-2.2 -4.0zM429.10 93.16h4.4l-2.2 -4.0zM433.25 77.56h4.4l-2.2 -4.0zM437.40 65.59h4.4l-2.2 -4.0zM441.55 54.84h4.4l-2.2 -4.0zM445.70 47.38h4.4l-2.2 -4.0zM449.85 42.01h4.4l-2.2 -4.0zM454.00 40.28h4.4l-2.2 -4.0zM458.15 38.54h4.4l-2.2 -4.0zM462.30 37.67h4.4l-2.2 -4.0zM466.45 36.81h4.4l-2.2 -4.0zM470.60 36.46h4.4l-2.2 -4.0zM474.75 36.46h4.4l-2.2 -4.0zM478.90 37.67h4.4l-2.2 -4.0zM483.05 38.54h4.4l-2.2 -4.0zM487.20 39.41h4.4l-2.2 -4.0zM491.35 42.88h4.4l-2.2 -4.0zM495.50 46.52h4.4l-2.2 -4.0zM499.65 47.38h4.4l-2.2 -4.0zM503.80 48.25h4.4l-2.2 -4.0zM507.95 49.99h4.4l-2.2 -4.0zM512.10 49.64h4.4l-2.2 -4.0z" fill="#000"/>
<circle cx="389.80" cy="198.40" r="2.05" fill="#000"/>
<circle cx="393.95" cy="198.40" r="2.05" fill="#000"/>
<circle cx="398.10" cy="198.40" r="2.05" fill="#000"/>
<circle cx="402.25" cy="198.40" r="2.05" fill="#000"/>
<circle cx="406.40" cy="198.40" r="2.05" fill="#000"/>
<circle cx="410.55" cy="194.76" r="2.05" fill="#000"/>
<circle cx="414.70" cy="181.41" r="2.05" fill="#000"/>
<circle cx="418.85" cy="140.83" r="2.05" fill="#000"/>
<circle cx="423.00" cy="120.54" r="2.05" fill="#000"/>
<circle cx="427.15" cy="92.63" r="2.05" fill="#000"/>
<circle cx="431.30" cy="75.63" r="2.05" fill="#000"/>
<circle cx="435.45" cy="64.36" r="2.05" fill="#000"/>
<circle cx="439.60" cy="58.99" r="2.05" fill="#000"/>
<circle cx="443.75" cy="50.84" r="2.05" fill="#000"/>
<circle cx="447.90" cy="45.11" r="2.05" fill="#000"/>
<circle cx="452.05" cy="38.87" r="2.05" fill="#000"/>
<circle cx="456.20" cy="37.83" r="2.05" fill="#000"/>
<circle cx="460.35" cy="36.10" r="2.05" fill="#000"/>
<circle cx="464.50" cy="35.06" r="2.05" fill="#000"/>
<circle cx="468.65" cy="35.58" r="2.05" fill="#000"/>
<circle cx="472.80" cy="34.19" r="2.05" fill="#000"/>
<circle cx="476.95" cy="34.19" r="2.05" fill="#000"/>
<circle cx="481.10" cy="35.40" r="2.05" fill="#000"/>
<circle cx="485.25" cy="36.44" r="2.05" fill="#000"/>
<circle cx="489.40" cy="36.79" r="2.05" fill="#000"/>
<circle cx="493.55" cy="40.95" r="2.05" fill="#000"/>
<circle cx="497.70" cy="44.59" r="2.05" fill="#000"/>
<circle cx="501.85" cy="45.63" r="2.05" fill="#000"/>
<circle cx="506.00" cy="46.50" r="2.05" fill="#000"/>
<circle cx="510.15" cy="48.76" r="2.05" fill="#000"/>
<circle cx="514.30" cy="47.89" r="2.05" fill="#000"/>
</g>
<g>
<path d="M34.40 422.50H158.30" fill="none" stroke="#555" stroke-width="0.8"/>
<path d="M34.40 422.50v2.0M75.70 422.50v2.0M117.00 422.50v2.0M158.30 422.50v2.0" stroke="#555" stroke-width="0.8" fill="none"/>
<path d="M34.40 240.64V422.90" stroke="#555" stroke-width="0.8" fill="none"/>
<path d="M32.20 422.50H34.40M32.20 387.86H34.40M32.20 353.22H34.40M32.20 318.58H34.40M32.20 283.94H34.40M32.20 249.30H34.40" stroke="#555" stroke-width="0.8" fill="none"/>
<text class="tk" x="25.30" y="425.30" text-anchor="end">0</text>
<text class="tk" x="25.30" y="390.66" text-anchor="end">20</text>
<text class="tk" x="25.30" y="356.02" text-anchor="end">40</text>
<text class="tk" x="25.30" y="321.38" text-anchor="end">60</text>
<text class="tk" x="25.30" y="286.74" text-anchor="end">80</text>
<text class="tk" x="25.30" y="252.10" text-anchor="end">100</text>
<text class="tk" x="34.40" y="436.40" text-anchor="middle">0</text>
<text class="tk" x="75.70" y="436.40" text-anchor="middle">10</text>
<text class="tk" x="117.00" y="436.40" text-anchor="middle">20</text>
<text class="tk" x="158.30" y="436.40" text-anchor="middle">30</text>
<text class="ti" x="96.35" y="449.20" text-anchor="middle">Time (min)</text>
<text class="ty" transform="translate(8.10 335.10) rotate(-90)" text-anchor="middle">Monocytes luminal (% total)</text>
<text class="pl" style="font-size:13.9px" x="1.60" y="243.50">D</text>
<path d="M42.66 348.02V361.88M40.56 348.02h4.2M40.56 361.88h4.2M46.79 329.66V343.52M44.69 329.66h4.2M44.69 343.52h4.2M50.92 297.80V311.65M48.82 297.80h4.2M48.82 311.65h4.2M55.05 348.02V358.42M52.95 348.02h4.2M52.95 358.42h4.2M59.18 370.71V381.11M57.08 370.71h4.2M57.08 381.11h4.2M63.31 379.37V389.77M61.21 379.37h4.2M61.21 389.77h4.2M67.44 386.30V396.69M65.34 386.30h4.2M65.34 396.69h4.2M71.57 391.50V401.89M69.47 391.50h4.2M69.47 401.89h4.2M75.70 393.23V403.62M73.60 393.23h4.2M73.60 403.62h4.2M79.83 395.83V406.22M77.73 395.83h4.2M77.73 406.22h4.2M83.96 397.56V407.95M81.86 397.56h4.2M81.86 407.95h4.2M88.09 395.65V406.74M85.99 395.65h4.2M85.99 406.74h4.2M92.22 393.40V407.95M90.12 393.40h4.2M90.12 407.95h4.2M96.35 392.88V407.43M94.25 392.88h4.2M94.25 407.43h4.2M100.48 389.42V406.74M98.38 389.42h4.2M98.38 406.74h4.2M104.61 397.39V404.31M102.51 397.39h4.2M102.51 404.31h4.2M108.74 397.91V404.49M106.64 397.91h4.2M106.64 404.49h4.2M112.87 397.73V404.66M110.77 397.73h4.2M110.77 404.66h4.2M117.00 400.16V404.31M114.90 400.16h4.2M114.90 404.31h4.2M121.13 398.43V403.97M119.03 398.43h4.2M119.03 403.97h4.2M125.26 389.25V400.68M123.16 389.25h4.2M123.16 400.68h4.2M129.39 385.26V392.19M127.29 385.26h4.2M127.29 392.19h4.2M133.52 382.32V389.25M131.42 382.32h4.2M131.42 389.25h4.2M137.65 376.78V383.70M135.55 376.78h4.2M135.55 383.70h4.2M141.78 372.79V377.99M139.68 372.79h4.2M139.68 377.99h4.2M145.91 372.79V377.99M143.81 372.79h4.2M143.81 377.99h4.2M150.04 361.53V376.08M147.94 361.53h4.2M147.94 376.08h4.2M154.17 359.97V374.52M152.07 359.97h4.2M152.07 374.52h4.2M158.30 361.88V375.74M156.20 361.88h4.2M156.20 375.74h4.2" stroke="#303030" stroke-width="0.7" fill="none"/>
<path d="M42.66 313.38V348.02M40.56 313.38h4.2M40.56 348.02h4.2M46.79 300.39V314.25M44.69 300.39h4.2M44.69 314.25h4.2M50.92 328.45V338.84M48.82 328.45h4.2M48.82 338.84h4.2M55.05 341.44V351.83M52.95 341.44h4.2M52.95 351.83h4.2M59.18 368.98V379.37M57.08 368.98h4.2M57.08 379.37h4.2M63.31 381.97V392.36M61.21 381.97h4.2M61.21 392.36h4.2M67.44 388.03V398.43M65.34 388.03h4.2M65.34 398.43h4.2M71.57 393.23V403.62M69.47 393.23h4.2M69.47 403.62h4.2M75.70 394.96V405.35M73.60 394.96h4.2M73.60 405.35h4.2M79.83 402.24V410.90M77.73 402.24h4.2M77.73 410.90h4.2M83.96 406.22V413.15M81.86 406.22h4.2M81.86 413.15h4.2M88.09 406.57V413.49M85.99 406.57h4.2M85.99 413.49h4.2M92.22 406.57V413.49M90.12 406.57h4.2M90.12 413.49h4.2M96.35 407.78V414.71M94.25 407.78h4.2M94.25 414.71h4.2M100.48 409.34V416.26M98.38 409.34h4.2M98.38 416.26h4.2M104.61 411.59V417.13M102.51 411.59h4.2M102.51 417.13h4.2M108.74 411.59V417.13M106.64 411.59h4.2M106.64 417.13h4.2M112.87 411.59V417.13M110.77 411.59h4.2M110.77 417.13h4.2M117.00 410.38V415.92M114.90 410.38h4.2M114.90 415.92h4.2M121.13 409.16V414.71M119.03 409.16h4.2M119.03 414.71h4.2M125.26 408.64V413.84M123.16 408.64h4.2M123.16 413.84h4.2M129.39 406.22V411.42M127.29 406.22h4.2M127.29 411.42h4.2M133.52 404.66V409.86M131.42 404.66h4.2M131.42 409.86h4.2M137.65 403.62V408.82M135.55 403.62h4.2M135.55 408.82h4.2M141.78 403.62V408.82M139.68 403.62h4.2M139.68 408.82h4.2M145.91 401.54V408.47M143.81 401.54h4.2M143.81 408.47h4.2M150.04 401.54V408.47M147.94 401.54h4.2M147.94 408.47h4.2M154.17 400.85V407.78M152.07 400.85h4.2M152.07 407.78h4.2M158.30 401.54V408.47M156.20 401.54h4.2M156.20 408.47h4.2" stroke="#303030" stroke-width="0.7" fill="none"/>
<path d="M42.66 367.25V384.57M40.56 367.25h4.2M40.56 384.57h4.2M46.79 285.67V306.46M44.69 285.67h4.2M44.69 306.46h4.2M50.92 296.58V306.98M48.82 296.58h4.2M48.82 306.98h4.2M55.05 352.35V362.75M52.95 352.35h4.2M52.95 362.75h4.2M59.18 369.67V380.07M57.08 369.67h4.2M57.08 380.07h4.2M63.31 374.87V392.19M61.21 374.87h4.2M61.21 392.19h4.2M67.44 384.92V398.77M65.34 384.92h4.2M65.34 398.77h4.2M71.57 388.73V406.05M69.47 388.73h4.2M69.47 406.05h4.2M75.70 388.73V406.05M73.60 388.73h4.2M73.60 406.05h4.2M79.83 394.61V408.47M77.73 394.61h4.2M77.73 408.47h4.2M83.96 399.81V410.20M81.86 399.81h4.2M81.86 410.20h4.2M88.09 410.90V417.82M85.99 410.90h4.2M85.99 417.82h4.2M92.22 412.11V419.04M90.12 412.11h4.2M90.12 419.04h4.2M96.35 414.71V419.90M94.25 414.71h4.2M94.25 419.90h4.2M100.48 415.92V421.11M98.38 415.92h4.2M98.38 421.11h4.2M104.61 415.92V421.11M102.51 415.92h4.2M102.51 421.11h4.2M108.74 415.92V421.11M106.64 415.92h4.2M106.64 421.11h4.2M112.87 415.92V421.11M110.77 415.92h4.2M110.77 421.11h4.2M117.00 415.92V421.11M114.90 415.92h4.2M114.90 421.11h4.2M121.13 415.92V421.11M119.03 415.92h4.2M119.03 421.11h4.2M125.26 415.92V421.11M123.16 415.92h4.2M123.16 421.11h4.2M129.39 415.05V420.25M127.29 415.05h4.2M127.29 420.25h4.2M133.52 413.15V418.34M131.42 413.15h4.2M131.42 418.34h4.2M137.65 413.15V418.34M135.55 413.15h4.2M135.55 418.34h4.2M141.78 407.26V415.23M139.68 407.26h4.2M139.68 415.23h4.2M145.91 406.05V414.01M143.81 406.05h4.2M143.81 414.01h4.2M150.04 399.98V413.15M147.94 399.98h4.2M147.94 413.15h4.2M154.17 399.29V412.45M152.07 399.29h4.2M152.07 412.45h4.2M158.30 399.29V412.45M156.20 399.29h4.2M156.20 412.45h4.2" stroke="#303030" stroke-width="0.7" fill="none"/>
<polyline points="34.40,422.50 38.53,422.50 42.66,354.95 46.79,336.59 50.92,304.72 55.05,353.22 59.18,375.91 63.31,384.57 67.44,391.50 71.57,396.69 75.70,398.43 79.83,401.02 83.96,402.76 88.09,401.20 92.22,400.68 96.35,400.16 100.48,398.08 104.61,400.85 108.74,401.20 112.87,401.20 117.00,402.24 121.13,401.20 125.26,394.96 129.39,388.73 133.52,385.78 137.65,380.24 141.78,375.39 145.91,375.39 150.04,368.81 154.17,367.25 158.30,368.81" fill="none" stroke="#050505" stroke-width="0.8" stroke-linejoin="round"/>
<polyline points="34.40,422.50 38.53,422.50 42.66,330.70 46.79,307.32 50.92,333.65 55.05,346.64 59.18,374.18 63.31,387.17 67.44,393.23 71.57,398.43 75.70,400.16 79.83,406.57 83.96,409.68 88.09,410.03 92.22,410.03 96.35,411.24 100.48,412.80 104.61,414.36 108.74,414.36 112.87,414.36 117.00,413.15 121.13,411.93 125.26,411.24 129.39,408.82 133.52,407.26 137.65,406.22 141.78,406.22 145.91,405.01 150.04,405.01 154.17,404.31 158.30,405.01" fill="none" stroke="#050505" stroke-width="0.8" stroke-linejoin="round"/>
<polyline points="34.40,422.50 38.53,422.50 42.66,375.91 46.79,296.06 50.92,301.78 55.05,357.55 59.18,374.87 63.31,383.53 67.44,391.84 71.57,397.39 75.70,397.39 79.83,401.54 83.96,405.01 88.09,414.36 92.22,415.57 96.35,417.30 100.48,418.52 104.61,418.52 108.74,418.52 112.87,418.52 117.00,418.52 121.13,418.52 125.26,418.52 129.39,417.65 133.52,415.75 137.65,415.75 141.78,411.24 145.91,410.03 150.04,406.57 154.17,405.87 158.30,405.87" fill="none" stroke="#050505" stroke-width="0.8" stroke-linejoin="round"/>
<path d="M32.20 420.75h4.4l-2.2 4.0zM36.33 420.75h4.4l-2.2 4.0zM40.46 353.20h4.4l-2.2 4.0zM44.59 334.84h4.4l-2.2 4.0zM48.72 302.97h4.4l-2.2 4.0zM52.85 351.47h4.4l-2.2 4.0zM56.98 374.16h4.4l-2.2 4.0zM61.11 382.82h4.4l-2.2 4.0zM65.24 389.75h4.4l-2.2 4.0zM69.37 394.94h4.4l-2.2 4.0zM73.50 396.68h4.4l-2.2 4.0zM77.63 399.27h4.4l-2.2 4.0zM81.76 401.01h4.4l-2.2 4.0zM85.89 399.45h4.4l-2.2 4.0zM90.02 398.93h4.4l-2.2 4.0zM94.15 398.41h4.4l-2.2 4.0zM98.28 396.33h4.4l-2.2 4.0zM102.41 399.10h4.4l-2.2 4.0zM106.54 399.45h4.4l-2.2 4.0zM110.67 399.45h4.4l-2.2 4.0zM114.80 400.49h4.4l-2.2 4.0zM118.93 399.45h4.4l-2.2 4.0zM123.06 393.21h4.4l-2.2 4.0zM127.19 386.98h4.4l-2.2 4.0zM131.32 384.03h4.4l-2.2 4.0zM135.45 378.49h4.4l-2.2 4.0zM139.58 373.64h4.4l-2.2 4.0zM143.71 373.64h4.4l-2.2 4.0zM147.84 367.06h4.4l-2.2 4.0zM151.97 365.50h4.4l-2.2 4.0zM156.10 367.06h4.4l-2.2 4.0z" fill="#000"/>
<path d="M32.20 424.25h4.4l-2.2 -4.0zM36.33 424.25h4.4l-2.2 -4.0zM40.46 332.45h4.4l-2.2 -4.0zM44.59 309.07h4.4l-2.2 -4.0zM48.72 335.40h4.4l-2.2 -4.0zM52.85 348.39h4.4l-2.2 -4.0zM56.98 375.93h4.4l-2.2 -4.0zM61.11 388.92h4.4l-2.2 -4.0zM65.24 394.98h4.4l-2.2 -4.0zM69.37 400.18h4.4l-2.2 -4.0zM73.50 401.91h4.4l-2.2 -4.0zM77.63 408.32h4.4l-2.2 -4.0zM81.76 411.43h4.4l-2.2 -4.0zM85.89 411.78h4.4l-2.2 -4.0zM90.02 411.78h4.4l-2.2 -4.0zM94.15 412.99h4.4l-2.2 -4.0zM98.28 414.55h4.4l-2.2 -4.0zM102.41 416.11h4.4l-2.2 -4.0zM106.54 416.11h4.4l-2.2 -4.0zM110.67 416.11h4.4l-2.2 -4.0zM114.80 414.90h4.4l-2.2 -4.0zM118.93 413.68h4.4l-2.2 -4.0zM123.06 412.99h4.4l-2.2 -4.0zM127.19 410.57h4.4l-2.2 -4.0zM131.32 409.01h4.4l-2.2 -4.0zM135.45 407.97h4.4l-2.2 -4.0zM139.58 407.97h4.4l-2.2 -4.0zM143.71 406.76h4.4l-2.2 -4.0zM147.84 406.76h4.4l-2.2 -4.0zM151.97 406.06h4.4l-2.2 -4.0zM156.10 406.76h4.4l-2.2 -4.0z" fill="#000"/>
<circle cx="34.40" cy="422.50" r="2.05" fill="#000"/>
<circle cx="38.53" cy="422.50" r="2.05" fill="#000"/>
<circle cx="42.66" cy="375.91" r="2.05" fill="#000"/>
<circle cx="46.79" cy="296.06" r="2.05" fill="#000"/>
<circle cx="50.92" cy="301.78" r="2.05" fill="#000"/>
<circle cx="55.05" cy="357.55" r="2.05" fill="#000"/>
<circle cx="59.18" cy="374.87" r="2.05" fill="#000"/>
<circle cx="63.31" cy="383.53" r="2.05" fill="#000"/>
<circle cx="67.44" cy="391.84" r="2.05" fill="#000"/>
<circle cx="71.57" cy="397.39" r="2.05" fill="#000"/>
<circle cx="75.70" cy="397.39" r="2.05" fill="#000"/>
<circle cx="79.83" cy="401.54" r="2.05" fill="#000"/>
<circle cx="83.96" cy="405.01" r="2.05" fill="#000"/>
<circle cx="88.09" cy="414.36" r="2.05" fill="#000"/>
<circle cx="92.22" cy="415.57" r="2.05" fill="#000"/>
<circle cx="96.35" cy="417.30" r="2.05" fill="#000"/>
<circle cx="100.48" cy="418.52" r="2.05" fill="#000"/>
<circle cx="104.61" cy="418.52" r="2.05" fill="#000"/>
<circle cx="108.74" cy="418.52" r="2.05" fill="#000"/>
<circle cx="112.87" cy="418.52" r="2.05" fill="#000"/>
<circle cx="117.00" cy="418.52" r="2.05" fill="#000"/>
<circle cx="121.13" cy="418.52" r="2.05" fill="#000"/>
<circle cx="125.26" cy="418.52" r="2.05" fill="#000"/>
<circle cx="129.39" cy="417.65" r="2.05" fill="#000"/>
<circle cx="133.52" cy="415.75" r="2.05" fill="#000"/>
<circle cx="137.65" cy="415.75" r="2.05" fill="#000"/>
<circle cx="141.78" cy="411.24" r="2.05" fill="#000"/>
<circle cx="145.91" cy="410.03" r="2.05" fill="#000"/>
<circle cx="150.04" cy="406.57" r="2.05" fill="#000"/>
<circle cx="154.17" cy="405.87" r="2.05" fill="#000"/>
<circle cx="158.30" cy="405.87" r="2.05" fill="#000"/>
</g>
<g>
<path d="M213.30 422.50H336.90" fill="none" stroke="#555" stroke-width="0.8"/>
<path d="M213.30 422.50v2.0M254.50 422.50v2.0M295.70 422.50v2.0M336.90 422.50v2.0" stroke="#555" stroke-width="0.8" fill="none"/>
<path d="M213.30 240.64V422.90" stroke="#555" stroke-width="0.8" fill="none"/>
<path d="M211.10 422.50H213.30M211.10 387.86H213.30M211.10 353.22H213.30M211.10 318.58H213.30M211.10 283.94H213.30M211.10 249.30H213.30" stroke="#555" stroke-width="0.8" fill="none"/>
<text class="tk" x="204.40" y="425.30" text-anchor="end">0</text>
<text class="tk" x="204.40" y="390.66" text-anchor="end">20</text>
<text class="tk" x="204.40" y="356.02" text-anchor="end">40</text>
<text class="tk" x="204.40" y="321.38" text-anchor="end">60</text>
<text class="tk" x="204.40" y="286.74" text-anchor="end">80</text>
<text class="tk" x="204.40" y="252.10" text-anchor="end">100</text>
<text class="tk" x="213.30" y="437.00" text-anchor="middle">0</text>
<text class="tk" x="254.50" y="437.00" text-anchor="middle">10</text>
<text class="tk" x="295.70" y="437.00" text-anchor="middle">20</text>
<text class="tk" x="336.90" y="437.00" text-anchor="middle">30</text>
<text class="ti" x="275.10" y="450.20" text-anchor="middle">Time (min)</text>
<text class="ty" transform="translate(187.00 335.10) rotate(-90)" text-anchor="middle">Monocytes luminal (% total)</text>
<text class="pl" style="font-size:13.9px" x="179.40" y="243.50">E</text>
<path d="M221.54 348.02V361.88M219.44 348.02h4.2M219.44 361.88h4.2M225.66 329.66V343.52M223.56 329.66h4.2M223.56 343.52h4.2M229.78 297.80V311.65M227.68 297.80h4.2M227.68 311.65h4.2M233.90 348.02V358.42M231.80 348.02h4.2M231.80 358.42h4.2M238.02 370.71V381.11M235.92 370.71h4.2M235.92 381.11h4.2M242.14 379.37V389.77M240.04 379.37h4.2M240.04 389.77h4.2M246.26 386.30V396.69M244.16 386.30h4.2M244.16 396.69h4.2M250.38 391.50V401.89M248.28 391.50h4.2M248.28 401.89h4.2M254.50 393.23V403.62M252.40 393.23h4.2M252.40 403.62h4.2M258.62 395.83V406.22M256.52 395.83h4.2M256.52 406.22h4.2M262.74 397.56V407.95M260.64 397.56h4.2M260.64 407.95h4.2M266.86 395.65V406.74M264.76 395.65h4.2M264.76 406.74h4.2M270.98 393.40V407.95M268.88 393.40h4.2M268.88 407.95h4.2M275.10 392.88V407.43M273.00 392.88h4.2M273.00 407.43h4.2M279.22 389.42V406.74M277.12 389.42h4.2M277.12 406.74h4.2M283.34 397.39V404.31M281.24 397.39h4.2M281.24 404.31h4.2M287.46 397.91V404.49M285.36 397.91h4.2M285.36 404.49h4.2M291.58 397.73V404.66M289.48 397.73h4.2M289.48 404.66h4.2M295.70 400.16V404.31M293.60 400.16h4.2M293.60 404.31h4.2M299.82 398.43V403.97M297.72 398.43h4.2M297.72 403.97h4.2M303.94 389.25V400.68M301.84 389.25h4.2M301.84 400.68h4.2M308.06 385.26V392.19M305.96 385.26h4.2M305.96 392.19h4.2M312.18 382.32V389.25M310.08 382.32h4.2M310.08 389.25h4.2M316.30 376.78V383.70M314.20 376.78h4.2M314.20 383.70h4.2M320.42 372.79V377.99M318.32 372.79h4.2M318.32 377.99h4.2M324.54 372.79V377.99M322.44 372.79h4.2M322.44 377.99h4.2M328.66 361.53V376.08M326.56 361.53h4.2M326.56 376.08h4.2M332.78 359.97V374.52M330.68 359.97h4.2M330.68 374.52h4.2M336.90 361.88V375.74M334.80 361.88h4.2M334.80 375.74h4.2" stroke="#303030" stroke-width="0.7" fill="none"/>
<path d="M221.54 313.38V348.02M219.44 313.38h4.2M219.44 348.02h4.2M225.66 300.39V314.25M223.56 300.39h4.2M223.56 314.25h4.2M229.78 328.45V338.84M227.68 328.45h4.2M227.68 338.84h4.2M233.90 341.44V351.83M231.80 341.44h4.2M231.80 351.83h4.2M238.02 368.98V379.37M235.92 368.98h4.2M235.92 379.37h4.2M242.14 381.97V392.36M240.04 381.97h4.2M240.04 392.36h4.2M246.26 388.03V398.43M244.16 388.03h4.2M244.16 398.43h4.2M250.38 393.23V403.62M248.28 393.23h4.2M248.28 403.62h4.2M254.50 394.96V405.35M252.40 394.96h4.2M252.40 405.35h4.2M258.62 402.24V410.90M256.52 402.24h4.2M256.52 410.90h4.2M262.74 406.22V413.15M260.64 406.22h4.2M260.64 413.15h4.2M266.86 406.57V413.49M264.76 406.57h4.2M264.76 413.49h4.2M270.98 406.57V413.49M268.88 406.57h4.2M268.88 413.49h4.2M275.10 407.78V414.71M273.00 407.78h4.2M273.00 414.71h4.2M279.22 409.34V416.26M277.12 409.34h4.2M277.12 416.26h4.2M283.34 411.59V417.13M281.24 411.59h4.2M281.24 417.13h4.2M287.46 411.59V417.13M285.36 411.59h4.2M285.36 417.13h4.2M291.58 411.59V417.13M289.48 411.59h4.2M289.48 417.13h4.2M295.70 410.38V415.92M293.60 410.38h4.2M293.60 415.92h4.2M299.82 409.16V414.71M297.72 409.16h4.2M297.72 414.71h4.2M303.94 408.64V413.84M301.84 408.64h4.2M301.84 413.84h4.2M308.06 406.22V411.42M305.96 406.22h4.2M305.96 411.42h4.2M312.18 404.66V409.86M310.08 404.66h4.2M310.08 409.86h4.2M316.30 403.62V408.82M314.20 403.62h4.2M314.20 408.82h4.2M320.42 403.62V408.82M318.32 403.62h4.2M318.32 408.82h4.2M324.54 401.54V408.47M322.44 401.54h4.2M322.44 408.47h4.2M328.66 401.54V408.47M326.56 401.54h4.2M326.56 408.47h4.2M332.78 400.85V407.78M330.68 400.85h4.2M330.68 407.78h4.2M336.90 401.54V408.47M334.80 401.54h4.2M334.80 408.47h4.2" stroke="#303030" stroke-width="0.7" fill="none"/>
<path d="M221.54 367.25V384.57M219.44 367.25h4.2M219.44 384.57h4.2M225.66 285.67V306.46M223.56 285.67h4.2M223.56 306.46h4.2M229.78 296.58V306.98M227.68 296.58h4.2M227.68 306.98h4.2M233.90 352.35V362.75M231.80 352.35h4.2M231.80 362.75h4.2M238.02 369.67V380.07M235.92 369.67h4.2M235.92 380.07h4.2M242.14 374.87V392.19M240.04 374.87h4.2M240.04 392.19h4.2M246.26 384.92V398.77M244.16 384.92h4.2M244.16 398.77h4.2M250.38 388.73V406.05M248.28 388.73h4.2M248.28 406.05h4.2M254.50 388.73V406.05M252.40 388.73h4.2M252.40 406.05h4.2M258.62 394.61V408.47M256.52 394.61h4.2M256.52 408.47h4.2M262.74 399.81V410.20M260.64 399.81h4.2M260.64 410.20h4.2M266.86 410.90V417.82M264.76 410.90h4.2M264.76 417.82h4.2M270.98 412.11V419.04M268.88 412.11h4.2M268.88 419.04h4.2M275.10 414.71V419.90M273.00 414.71h4.2M273.00 419.90h4.2M279.22 415.92V421.11M277.12 415.92h4.2M277.12 421.11h4.2M283.34 415.92V421.11M281.24 415.92h4.2M281.24 421.11h4.2M287.46 415.92V421.11M285.36 415.92h4.2M285.36 421.11h4.2M291.58 415.92V421.11M289.48 415.92h4.2M289.48 421.11h4.2M295.70 415.92V421.11M293.60 415.92h4.2M293.60 421.11h4.2M299.82 415.92V421.11M297.72 415.92h4.2M297.72 421.11h4.2M303.94 415.92V421.11M301.84 415.92h4.2M301.84 421.11h4.2M308.06 415.05V420.25M305.96 415.05h4.2M305.96 420.25h4.2M312.18 413.15V418.34M310.08 413.15h4.2M310.08 418.34h4.2M316.30 413.15V418.34M314.20 413.15h4.2M314.20 418.34h4.2M320.42 407.26V415.23M318.32 407.26h4.2M318.32 415.23h4.2M324.54 406.05V414.01M322.44 406.05h4.2M322.44 414.01h4.2M328.66 399.98V413.15M326.56 399.98h4.2M326.56 413.15h4.2M332.78 399.29V412.45M330.68 399.29h4.2M330.68 412.45h4.2M336.90 399.29V412.45M334.80 399.29h4.2M334.80 412.45h4.2" stroke="#303030" stroke-width="0.7" fill="none"/>
<polyline points="213.30,422.50 217.42,422.50 221.54,354.95 225.66,336.59 229.78,304.72 233.90,353.22 238.02,375.91 242.14,384.57 246.26,391.50 250.38,396.69 254.50,398.43 258.62,401.02 262.74,402.76 266.86,401.20 270.98,400.68 275.10,400.16 279.22,398.08 283.34,400.85 287.46,401.20 291.58,401.20 295.70,402.24 299.82,401.20 303.94,394.96 308.06,388.73 312.18,385.78 316.30,380.24 320.42,375.39 324.54,375.39 328.66,368.81 332.78,367.25 336.90,368.81" fill="none" stroke="#050505" stroke-width="0.8" stroke-linejoin="round"/>
<polyline points="213.30,422.50 217.42,422.50 221.54,330.70 225.66,307.32 229.78,333.65 233.90,346.64 238.02,374.18 242.14,387.17 246.26,393.23 250.38,398.43 254.50,400.16 258.62,406.57 262.74,409.68 266.86,410.03 270.98,410.03 275.10,411.24 279.22,412.80 283.34,414.36 287.46,414.36 291.58,414.36 295.70,413.15 299.82,411.93 303.94,411.24 308.06,408.82 312.18,407.26 316.30,406.22 320.42,406.22 324.54,405.01 328.66,405.01 332.78,404.31 336.90,405.01" fill="none" stroke="#050505" stroke-width="0.8" stroke-linejoin="round"/>
<polyline points="213.30,422.50 217.42,422.50 221.54,375.91 225.66,296.06 229.78,301.78 233.90,357.55 238.02,374.87 242.14,383.53 246.26,391.84 250.38,397.39 254.50,397.39 258.62,401.54 262.74,405.01 266.86,414.36 270.98,415.57 275.10,417.30 279.22,418.52 283.34,418.52 287.46,418.52 291.58,418.52 295.70,418.52 299.82,418.52 303.94,418.52 308.06,417.65 312.18,415.75 316.30,415.75 320.42,411.24 324.54,410.03 328.66,406.57 332.78,405.87 336.90,405.87" fill="none" stroke="#050505" stroke-width="0.8" stroke-linejoin="round"/>
<path d="M211.10 420.75h4.4l-2.2 4.0zM215.22 420.75h4.4l-2.2 4.0zM219.34 353.20h4.4l-2.2 4.0zM223.46 334.84h4.4l-2.2 4.0zM227.58 302.97h4.4l-2.2 4.0zM231.70 351.47h4.4l-2.2 4.0zM235.82 374.16h4.4l-2.2 4.0zM239.94 382.82h4.4l-2.2 4.0zM244.06 389.75h4.4l-2.2 4.0zM248.18 394.94h4.4l-2.2 4.0zM252.30 396.68h4.4l-2.2 4.0zM256.42 399.27h4.4l-2.2 4.0zM260.54 401.01h4.4l-2.2 4.0zM264.66 399.45h4.4l-2.2 4.0zM268.78 398.93h4.4l-2.2 4.0zM272.90 398.41h4.4l-2.2 4.0zM277.02 396.33h4.4l-2.2 4.0zM281.14 399.10h4.4l-2.2 4.0zM285.26 399.45h4.4l-2.2 4.0zM289.38 399.45h4.4l-2.2 4.0zM293.50 400.49h4.4l-2.2 4.0zM297.62 399.45h4.4l-2.2 4.0zM301.74 393.21h4.4l-2.2 4.0zM305.86 386.98h4.4l-2.2 4.0zM309.98 384.03h4.4l-2.2 4.0zM314.10 378.49h4.4l-2.2 4.0zM318.22 373.64h4.4l-2.2 4.0zM322.34 373.64h4.4l-2.2 4.0zM326.46 367.06h4.4l-2.2 4.0zM330.58 365.50h4.4l-2.2 4.0zM334.70 367.06h4.4l-2.2 4.0z" fill="#000"/>
<path d="M211.10 424.25h4.4l-2.2 -4.0zM215.22 424.25h4.4l-2.2 -4.0zM219.34 332.45h4.4l-2.2 -4.0zM223.46 309.07h4.4l-2.2 -4.0zM227.58 335.40h4.4l-2.2 -4.0zM231.70 348.39h4.4l-2.2 -4.0zM235.82 375.93h4.4l-2.2 -4.0zM239.94 388.92h4.4l-2.2 -4.0zM244.06 394.98h4.4l-2.2 -4.0zM248.18 400.18h4.4l-2.2 -4.0zM252.30 401.91h4.4l-2.2 -4.0zM256.42 408.32h4.4l-2.2 -4.0zM260.54 411.43h4.4l-2.2 -4.0zM264.66 411.78h4.4l-2.2 -4.0zM268.78 411.78h4.4l-2.2 -4.0zM272.90 412.99h4.4l-2.2 -4.0zM277.02 414.55h4.4l-2.2 -4.0zM281.14 416.11h4.4l-2.2 -4.0zM285.26 416.11h4.4l-2.2 -4.0zM289.38 416.11h4.4l-2.2 -4.0zM293.50 414.90h4.4l-2.2 -4.0zM297.62 413.68h4.4l-2.2 -4.0zM301.74 412.99h4.4l-2.2 -4.0zM305.86 410.57h4.4l-2.2 -4.0zM309.98 409.01h4.4l-2.2 -4.0zM314.10 407.97h4.4l-2.2 -4.0zM318.22 407.97h4.4l-2.2 -4.0zM322.34 406.76h4.4l-2.2 -4.0zM326.46 406.76h4.4l-2.2 -4.0zM330.58 406.06h4.4l-2.2 -4.0zM334.70 406.76h4.4l-2.2 -4.0z" fill="#000"/>
<circle cx="213.30" cy="422.50" r="2.05" fill="#000"/>
<circle cx="217.42" cy="422.50" r="2.05" fill="#000"/>
<circle cx="221.54" cy="375.91" r="2.05" fill="#000"/>
<circle cx="225.66" cy="296.06" r="2.05" fill="#000"/>
<circle cx="229.78" cy="301.78" r="2.05" fill="#000"/>
<circle cx="233.90" cy="357.55" r="2.05" fill="#000"/>
<circle cx="238.02" cy="374.87" r="2.05" fill="#000"/>
<circle cx="242.14" cy="383.53" r="2.05" fill="#000"/>
<circle cx="246.26" cy="391.84" r="2.05" fill="#000"/>
<circle cx="250.38" cy="397.39" r="2.05" fill="#000"/>
<circle cx="254.50" cy="397.39" r="2.05" fill="#000"/>
<circle cx="258.62" cy="401.54" r="2.05" fill="#000"/>
<circle cx="262.74" cy="405.01" r="2.05" fill="#000"/>
<circle cx="266.86" cy="414.36" r="2.05" fill="#000"/>
<circle cx="270.98" cy="415.57" r="2.05" fill="#000"/>
<circle cx="275.10" cy="417.30" r="2.05" fill="#000"/>
<circle cx="279.22" cy="418.52" r="2.05" fill="#000"/>
<circle cx="283.34" cy="418.52" r="2.05" fill="#000"/>
<circle cx="287.46" cy="418.52" r="2.05" fill="#000"/>
<circle cx="291.58" cy="418.52" r="2.05" fill="#000"/>
<circle cx="295.70" cy="418.52" r="2.05" fill="#000"/>
<circle cx="299.82" cy="418.52" r="2.05" fill="#000"/>
<circle cx="303.94" cy="418.52" r="2.05" fill="#000"/>
<circle cx="308.06" cy="417.65" r="2.05" fill="#000"/>
<circle cx="312.18" cy="415.75" r="2.05" fill="#000"/>
<circle cx="316.30" cy="415.75" r="2.05" fill="#000"/>
<circle cx="320.42" cy="411.24" r="2.05" fill="#000"/>
<circle cx="324.54" cy="410.03" r="2.05" fill="#000"/>
<circle cx="328.66" cy="406.57" r="2.05" fill="#000"/>
<circle cx="332.78" cy="405.87" r="2.05" fill="#000"/>
<circle cx="336.90" cy="405.87" r="2.05" fill="#000"/>
</g>
</g>
</svg>
</body></html>
